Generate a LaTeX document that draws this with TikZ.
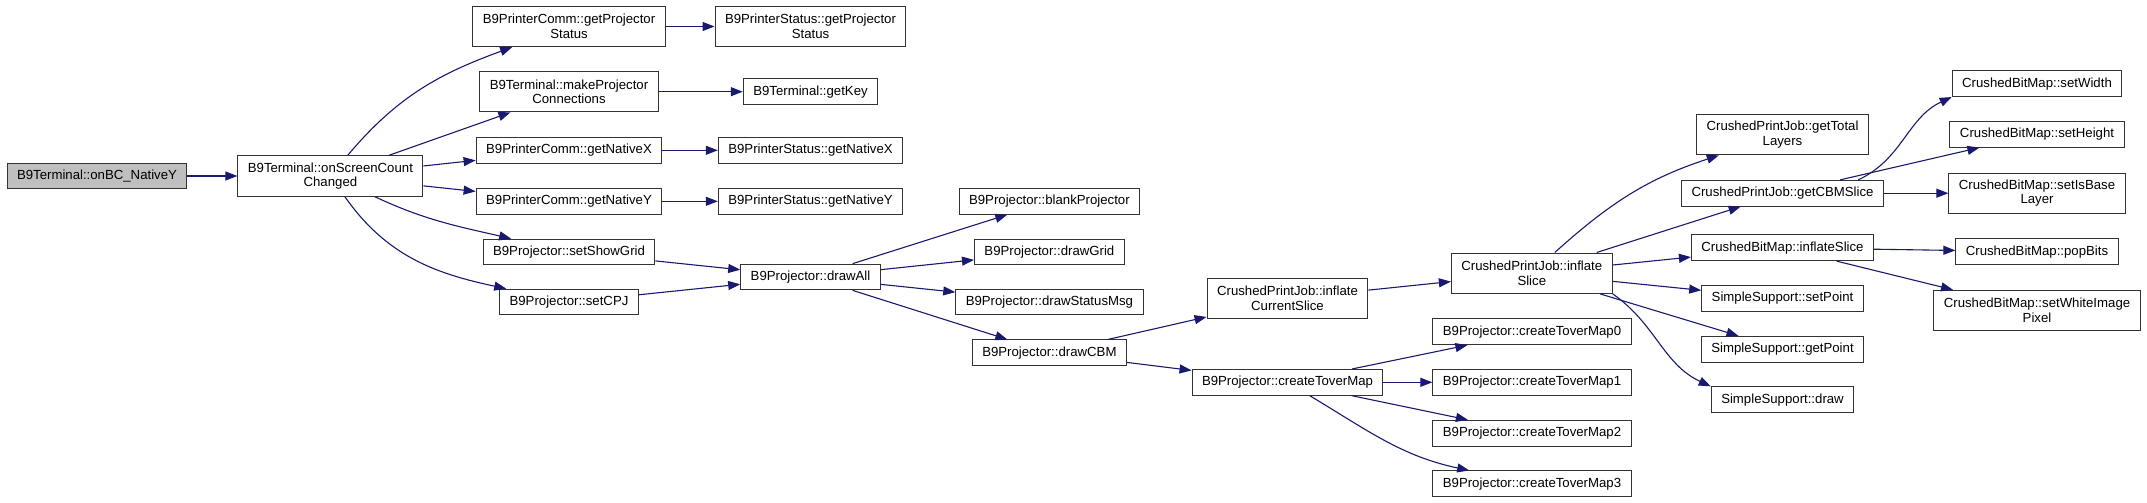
\documentclass[tikz,border=0pt]{standalone}
\usepackage{fontspec}
\setmainfont{Liberation Sans}
\usepackage{xcolor}
\usetikzlibrary{arrows.meta}
\definecolor{callblue}{RGB}{25,25,112}
\definecolor{rootgray}{RGB}{191,191,191}

\begin{document}
\begin{tikzpicture}[x=1pt, y=1pt, font=\fontsize{13.2}{14.5}\selectfont, >={Triangle[length=12pt,width=9pt]},
  fn/.style={draw=black!80, line width=1pt, inner xsep=10pt, inner ysep=5pt, minimum height=25.7pt, align=center, fill=#1},
  fn/.default=white,
  tall/.style={minimum height=40.4pt},
  cl/.style={->, draw=callblue, line width=1.1pt}]
\useasboundingbox (0,0) rectangle (2147,-503);
\node[fn=rootgray] (onbc) at (97,-176) {B9Terminal::onBC\_NativeY};
\node[fn, tall] (osc) at (330.4,-176) {B9Terminal::onScreenCount\\Changed};
\node[fn, tall] (pcgps) at (569,-26.5) {B9PrinterComm::getProjector\\Status};
\node[fn, tall] (mpc) at (569,-91.7) {B9Terminal::makeProjector\\Connections};
\node[fn] (pcnx) at (569,-150.3) {B9PrinterComm::getNativeX};
\node[fn] (pcny) at (569,-201.3) {B9PrinterComm::getNativeY};
\node[fn] (ssg) at (569,-252) {B9Projector::setShowGrid};
\node[fn] (scpj) at (569,-302) {B9Projector::setCPJ};
\node[fn, tall] (psgps) at (810.5,-26.5) {B9PrinterStatus::getProjector\\Status};
\node[fn] (gkey) at (810.5,-91.7) {B9Terminal::getKey};
\node[fn] (psnx) at (810.5,-150.3) {B9PrinterStatus::getNativeX};
\node[fn] (psny) at (810.5,-201.3) {B9PrinterStatus::getNativeY};
\node[fn] (dall) at (810.5,-277) {B9Projector::drawAll};
\node[fn] (blank) at (1049.4,-201.3) {B9Projector::blankProjector};
\node[fn] (dgrid) at (1049.4,-252) {B9Projector::drawGrid};
\node[fn] (dmsg) at (1049.4,-302) {B9Projector::drawStatusMsg};
\node[fn] (dcbm) at (1049.4,-352.8) {B9Projector::drawCBM};
\node[fn, tall] (ics) at (1287.5,-298.5) {CrushedPrintJob::inflate\\CurrentSlice};
\node[fn] (ctm) at (1287.5,-382.3) {B9Projector::createToverMap};
\node[fn, tall] (cis) at (1531.8,-273.2) {CrushedPrintJob::inflate\\Slice};
\foreach \i/\y in {0/331.8,1/382.3,2/433.2,3/483.8}
  \node[fn] (ctm\i) at (1532,-\y) {B9Projector::createToverMap\i};
\node[fn, tall] (gtl) at (1782.5,-134.7) {CrushedPrintJob::getTotal\\Layers};
\node[fn] (gcbm) at (1782.5,-193.2) {CrushedPrintJob::getCBMSlice};
\node[fn] (bis) at (1782.5,-247.8) {CrushedBitMap::inflateSlice};
\node[fn] (spt) at (1782.5,-298.5) {SimpleSupport::setPoint};
\node[fn] (gpt) at (1782.5,-349.2) {SimpleSupport::getPoint};
\node[fn] (sdraw) at (1782.5,-399.7) {SimpleSupport::draw};
\node[fn] (swid) at (2037,-83.7) {CrushedBitMap::setWidth};
\node[fn] (shgt) at (2037,-134.3) {CrushedBitMap::setHeight};
\node[fn, tall] (sibl) at (2037,-193.2) {CrushedBitMap::setIsBase\\Layer};
\node[fn] (pop) at (2037,-251.7) {CrushedBitMap::popBits};
\node[fn, tall] (swip) at (2037,-310.5) {CrushedBitMap::setWhiteImage\\Pixel};
\foreach \a/\b in {onbc/osc, osc/mpc, osc/pcnx, osc/pcny, pcgps/psgps, mpc/gkey, pcnx/psnx, pcny/psny,
    ssg/dall, scpj/dall, dall/blank, dall/dgrid, dall/dmsg, dall/dcbm, dcbm/ics, dcbm/ctm, ics/cis,
    ctm/ctm0, ctm/ctm1, ctm/ctm2, cis/gcbm, cis/bis, cis/spt, cis/gpt, gcbm/shgt, gcbm/sibl, bis/pop, bis/swip}
  \draw[cl] (\a) -- (\b);
\draw[cl] (osc) to[out=50,in=200] (pcgps);
\draw[cl] (osc) to[out=-25,in=167] (ssg);
\draw[cl] (osc) to[out=-55,in=168] (scpj);
\draw[cl] (ctm) to[out=-31,in=168] (ctm3);
\draw[cl] (cis) to[out=42,in=198] (gtl);
\draw[cl] (cis.south east) to[out=-35,in=155] (sdraw.north west);
\draw[cl] (gcbm.10) to[out=25,in=205] (swid.south west);
\end{tikzpicture}
\end{document}
